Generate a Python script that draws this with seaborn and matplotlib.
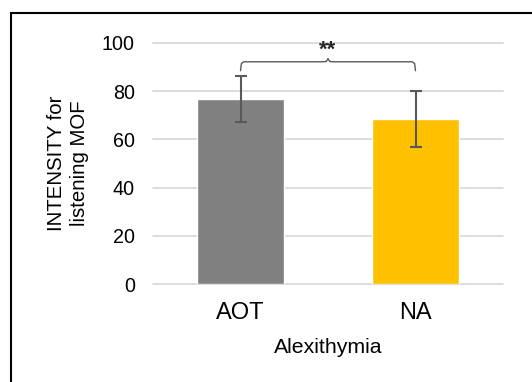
import matplotlib
matplotlib.use("Agg")
import matplotlib.pyplot as plt
from matplotlib.patches import Rectangle
import numpy as np
import pandas as pd
import seaborn as sns

GROUPS = ["AOT", "NA"]
MEANS = [76.7, 68.5]
ERRORS = [9.6, 11.7]
COLORS = ["#808080", "#FFC000"]
Y_TICKS = [0, 20, 40, 60, 80, 100]
SIG_LABEL = "**"


def main():
    sns.set_theme(style="white")
    plt.rcParams["font.family"] = ["Liberation Sans", "DejaVu Sans"]

    df = pd.DataFrame({"group": GROUPS, "mean": MEANS, "err": ERRORS})

    fig = plt.figure(figsize=(5.32, 3.82), dpi=100)
    ax = fig.add_axes([153 / 532, 1 - 284 / 382, 350 / 532, 241 / 382])

    sns.barplot(data=df, x="group", y="mean", hue="group", palette=COLORS,
                width=0.5, errorbar=None, legend=False, ax=ax, zorder=3,
                saturation=1)
    xs = np.arange(len(GROUPS))
    ax.errorbar(xs, df["mean"], yerr=df["err"], fmt="none", ecolor="#595959",
                elinewidth=1.5, capsize=4.5, capthick=1.5, zorder=4)

    ax.set_ylim(0, 100)
    ax.set_xlim(-0.5, 1.5)
    ax.set_yticks(Y_TICKS)
    ax.tick_params(axis="y", labelsize=14.2, length=0, pad=13, labelcolor="black")
    ax.tick_params(axis="x", labelsize=17, length=0, pad=13, labelcolor="black")
    ax.set_axisbelow(True)
    for y in Y_TICKS:
        ax.axhline(y, color="#d9d9d9", linewidth=1.3, zorder=0, clip_on=False)
    for s in ax.spines.values():
        s.set_visible(False)
    ax.set_xlabel("Alexithymia", fontsize=15.3, labelpad=10, color="black")
    ax.set_ylabel("INTENSITY for\nlistening MOF", fontsize=14.7, labelpad=9,
                  linespacing=1.3, color="black")

    # significance brace between the two bars
    top = 92.2
    low = top - 3.7
    bx = [0, 0.005, 0.02, 0.46, 0.49, 0.5, 0.51, 0.54, 0.98, 0.995, 1]
    by = [low, top - 0.7, top, top, top + 0.1, top + 1.3, top + 0.1, top,
          top, top - 0.7, low]
    ax.plot(bx, by, color="#595959", linewidth=1.0, clip_on=False, zorder=5)
    ax.text(0.5, top + 0.6, SIG_LABEL, ha="center", va="bottom", fontsize=16,
            fontweight="bold", color="#262626")

    fig.patches.append(Rectangle((11 / 532, -0.1), 1.2, 1 - 13 / 382 + 0.1,
                                 transform=fig.transFigure, fill=False,
                                 edgecolor="black", linewidth=1.5))
    fig.savefig("out.png", dpi=100)


if __name__ == "__main__":
    main()
